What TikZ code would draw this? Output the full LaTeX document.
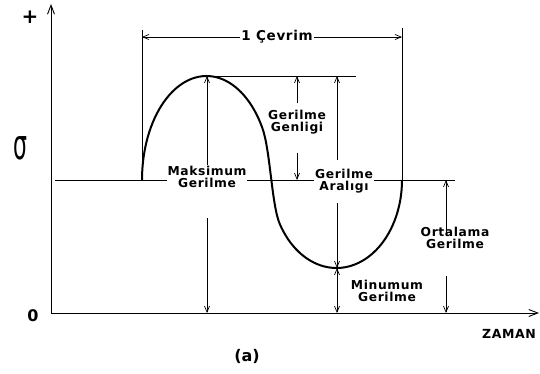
\documentclass[tikz,border=0pt]{standalone}
\usepackage{fontspec}
\setsansfont{DejaVu Sans}
\newfontfamily\lblfont{DejaVu Sans}[LetterSpace=5]
\usetikzlibrary{arrows.meta}
\tikzset{
  lbl/.style={font=\lblfont\bfseries\fontsize{12.3}{12.5}\selectfont, align=center, fill=white, inner sep=1pt},
  dimarr/.style={line width=0.7pt, -{Straight Barb[length=6pt,width=5pt]}},
  axis/.style={line width=0.9pt},
}
\begin{document}
\begin{tikzpicture}[x=1pt, y=-1pt]
  \useasboundingbox (0,0) rectangle (540,374);
  % axes
  \coordinate (o) at (51,313);
  \coordinate (ytip) at (51,4);
  \coordinate (xtip) at (539,313);
  \draw[axis, -{Straight Barb[length=9pt,width=7pt]}] (o) -- (ytip);
  \draw[axis, -{Straight Barb[length=9pt,width=7pt]}] (o) -- (xtip);
  \node[font=\sffamily\bfseries\fontsize{20}{20}\selectfont] (plus) at (30,17) {+};
  \node[font=\sffamily\bfseries\fontsize{16}{16}\selectfont] (zero) at (33,316) {0};
  \node[font=\sffamily\fontsize{40}{40}\selectfont] (sig) at (20,148) {\scalebox{0.55}[1.05]{σ}};
  \node[lbl, fill=none, font=\lblfont\bfseries\fontsize{12.5}{12.5}\selectfont] (zaman) at (509,334) {ZAMAN};
  \node[font=\sffamily\bfseries\fontsize{16}{16}\selectfont] (cap) at (247,356) {(a)};
  % mean stress line and cycle
  \coordinate (peak) at (207,76);
  \coordinate (trough) at (337,268);
  \coordinate (mr) at (446,180);
  \draw[line width=0.6pt] (55,180) -- (455,180);
  \draw[line width=2pt, line join=round] plot[domain=0:150, samples=50] ({206.5-64.5*cos(\x)},{180-104*sin(\x)})
    .. controls (270.4,150.5) and (271.6,205) .. (279.78,224)
    -- plot[domain=30:180, samples=50] ({336.5-65.5*cos(\x)},{180+88*sin(\x)});
  \draw[line width=1pt] (142,30) -- (142,180);
  \draw[line width=1pt] (402,28) -- (402,185);
  \draw[line width=0.6pt] (peak) -- (356,76);
  % one cycle
  \coordinate (cl) at (142,37);
  \coordinate (cr) at (402,37);
  \node[lbl, font=\lblfont\bfseries\fontsize{13.5}{14}\selectfont] (cyc) at (277,37) {1 Çevrim};
  \draw[dimarr] (cyc.west) -- (cl);
  \draw[dimarr] (cyc.east) -- (cr);
  % labels
  \node[lbl] (maks) at (207,177) {Maksimum\\Gerilme};
  \draw[dimarr] (maks.north) -- (peak);
  \draw[dimarr, shorten <=29pt] (maks.south) -- (peak |- o);
  \node[lbl] (genlik) at (297,122) {Gerilme\\Genligi};
  \draw[dimarr, shorten <=6pt] (genlik.north) -- (genlik.north |- peak);
  \draw[dimarr, shorten <=18pt] (genlik.south) -- (genlik.south |- mr);
  \node[lbl] (aralik) at (344,181) {Gerilme\\Aralıgı};
  \draw[dimarr, shorten <=8pt] (aralik.north -| trough) -- (trough |- peak);
  \draw[dimarr, shorten <=9pt] (aralik.south -| trough) -- (trough);
  \node[lbl] (mini) at (387,291) {Minumum\\Gerilme};
  \draw[dimarr, {Straight Barb[length=6pt,width=5pt]}-{Straight Barb[length=6pt,width=5pt]}] (trough) -- (trough |- o);
  \node[lbl] (ort) at (455,238) {Ortalama\\Gerilme};
  \draw[dimarr, shorten <=-10pt] (ort.north -| mr) -- (mr);
  \draw[dimarr, shorten <=26pt] (ort.south -| mr) -- (mr |- o);
\end{tikzpicture}
\end{document}
